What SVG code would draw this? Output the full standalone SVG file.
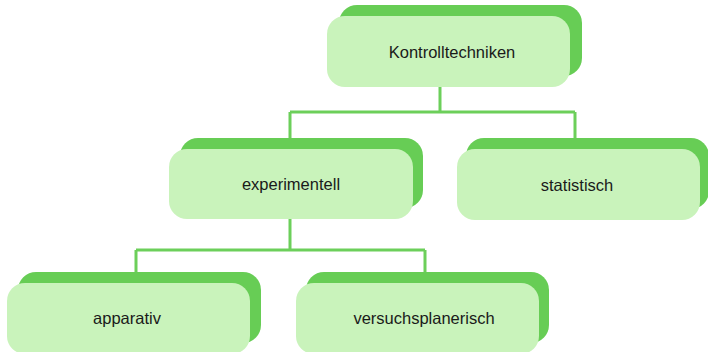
<svg xmlns="http://www.w3.org/2000/svg" width="708" height="352" viewBox="0 0 708 352">
<style>
.sh{fill:#67cd55}
.bx{fill:#c9f3bb}
.lb{font-family:"Liberation Sans",Arial,sans-serif;font-size:16.5px;fill:#1a1a1a;text-anchor:middle}
.cn{fill:none;stroke:#6ccf5a;stroke-width:3}
</style>
<rect width="708" height="352" fill="#ffffff"/>
<g id="connectors">
<path class="cn" d="M440 87V112M290 112H575M290 112V140M575 112V140"/>
<path class="cn" d="M290 219V250M136 250H425M136 250V274M425 250V274"/>
</g>
<g id="n-kontrolltechniken">
<rect class="sh" x="339" y="5" width="243" height="71" rx="18"/>
<rect class="bx" x="327" y="16" width="243" height="71" rx="18"/>
<text class="lb" x="452" y="58">Kontrolltechniken</text>
</g>
<g id="n-experimentell">
<rect class="sh" x="180" y="138" width="243" height="70" rx="18"/>
<rect class="bx" x="169" y="149" width="244" height="70" rx="18"/>
<text class="lb" x="291" y="190">experimentell</text>
</g>
<g id="n-statistisch">
<rect class="sh" x="466" y="138" width="243" height="71" rx="18"/>
<rect class="bx" x="457" y="149" width="243" height="71" rx="18"/>
<text class="lb" x="577" y="191">statistisch</text>
</g>
<g id="n-apparativ">
<rect class="sh" x="18" y="272" width="243" height="71" rx="18"/>
<rect class="bx" x="7" y="283" width="243" height="71" rx="18"/>
<text class="lb" x="127" y="324">apparativ</text>
</g>
<g id="n-versuchsplanerisch">
<rect class="sh" x="306" y="272" width="243" height="71" rx="18"/>
<rect class="bx" x="296" y="283" width="243" height="71" rx="18"/>
<text class="lb" x="424" y="324">versuchsplanerisch</text>
</g>
</svg>
